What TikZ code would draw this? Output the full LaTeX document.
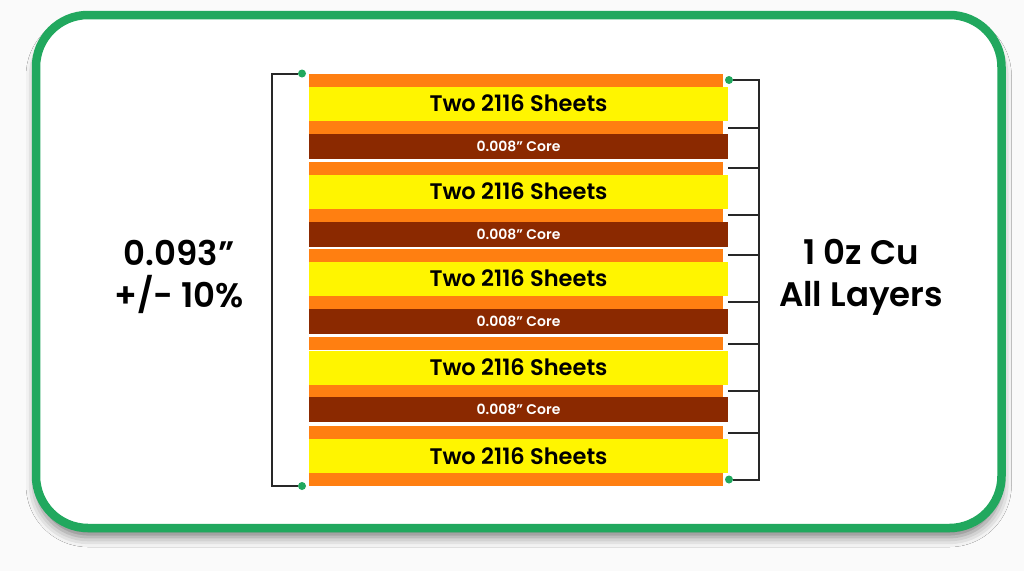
\documentclass[tikz,border=0pt]{standalone}
\usepackage{fontspec}
\setmainfont{Poppins}[BoldFont={Poppins SemiBold}]
\usetikzlibrary{shadows.blur}
\definecolor{bgwhite}{RGB}{250,250,250}
\definecolor{cuorange}{RGB}{255,127,17}
\definecolor{ppyellow}{RGB}{255,245,0}
\definecolor{corebrown}{RGB}{139,41,0}
\definecolor{framegreen}{RGB}{33,168,94}
\definecolor{barline}{RGB}{40,40,40}
\begin{document}
\begin{tikzpicture}[x=1pt, y=-1pt,
    layer/.style={inner sep=0pt, outer sep=0pt, anchor=north west, minimum width=419pt},
    copper/.style={layer, fill=cuorange, minimum width=414pt, minimum height=13pt},
    prepreg/.style={layer, fill=ppyellow, minimum height=34pt, font=\bfseries\fontsize{22.5}{22.5}\selectfont},
    core/.style={layer, fill=corebrown, minimum height=25pt, text=white, font=\bfseries\fontsize{14}{14}\selectfont},
    bar/.style={line width=2pt, draw=barline},
    pin/.style={circle, fill=framegreen, inner sep=0pt, minimum size=8pt},
    dimtext/.style={align=center, font=\bfseries\fontsize{34}{42}\selectfont}]
    \fill[bgwhite] (0,0) rectangle (1024,571);
    \useasboundingbox (0,0) rectangle (1024,571);
    \draw[line width=8.5pt, draw=framegreen, fill=white, rounded corners=52pt,
        blur shadow={shadow xshift=0pt, shadow yshift=-9pt, shadow blur radius=10pt, shadow opacity=50}]
        (36,15) rectangle (1001.5,528);
    % stack
    \node[copper] (cu1) at (309,73.5) {};
    \node[prepreg] (pp1) at (309,86.7) {Two 2116 Sheets};
    \node[copper] (cu2) at (309,121) {};
    \node[core] (core1) at (309,134) {0.008” Core};
    \node[copper] (cu3) at (309,161.7) {};
    \node[prepreg] (pp2) at (309,174.5) {Two 2116 Sheets};
    \node[copper] (cu4) at (309,208.7) {};
    \node[core] (core2) at (309,221.7) {0.008” Core};
    \node[copper] (cu5) at (309,248.7) {};
    \node[prepreg] (pp3) at (309,261.5) {Two 2116 Sheets};
    \node[copper] (cu6) at (309,295.5) {};
    \node[core] (core3) at (309,308.7) {0.008” Core};
    \node[copper] (cu7) at (309,337.3) {};
    \node[prepreg] (pp4) at (309,350.5) {Two 2116 Sheets};
    \node[copper] (cu8) at (309,384.5) {};
    \node[core] (core4) at (309,397.3) {0.008” Core};
    \node[copper] (cu9) at (309,426) {};
    \node[prepreg] (pp5) at (309,439) {Two 2116 Sheets};
    \node[copper] (cu10) at (309,473) {};
    % left bracket
    \coordinate (lbar) at (272,0);
    \node[pin] (ltop) at ([xshift=-7pt]cu1.north west) {};
    \node[pin] (lbot) at ([xshift=-7pt]cu10.south west) {};
    \draw[bar] (ltop) -- (ltop -| lbar) -- (lbot -| lbar) -- (lbot);
    % right bracket
    \coordinate (rbar) at (759,0);
    \node[pin] (rtop) at ([xshift=6pt]cu1.east) {};
    \node[pin] (rbot) at ([xshift=6pt]cu10.east) {};
    \draw[bar] (rtop) -- (rtop -| rbar) -- (rbot -| rbar) -- (rbot);
    \draw[bar] ([xshift=5pt]cu2.east) -- (cu2.east -| rbar);
    \draw[bar] ([xshift=5pt]cu3.east) -- (cu3.east -| rbar);
    \draw[bar] ([xshift=5pt]cu4.east) -- (cu4.east -| rbar);
    \draw[bar] ([xshift=5pt]cu5.east) -- (cu5.east -| rbar);
    \draw[bar] ([xshift=5pt]cu6.east) -- (cu6.east -| rbar);
    \draw[bar] ([xshift=5pt]cu7.east) -- (cu7.east -| rbar);
    \draw[bar] ([xshift=5pt]cu8.east) -- (cu8.east -| rbar);
    \draw[bar] ([xshift=5pt]cu9.east) -- (cu9.east -| rbar);
    % labels
    \node[dimtext] (thick) at (179,277) {0.093”\\+/- 10\%};
    \node[dimtext] (weight) at (861,277) {1 0z Cu\\All Layers};
\end{tikzpicture}
\end{document}
